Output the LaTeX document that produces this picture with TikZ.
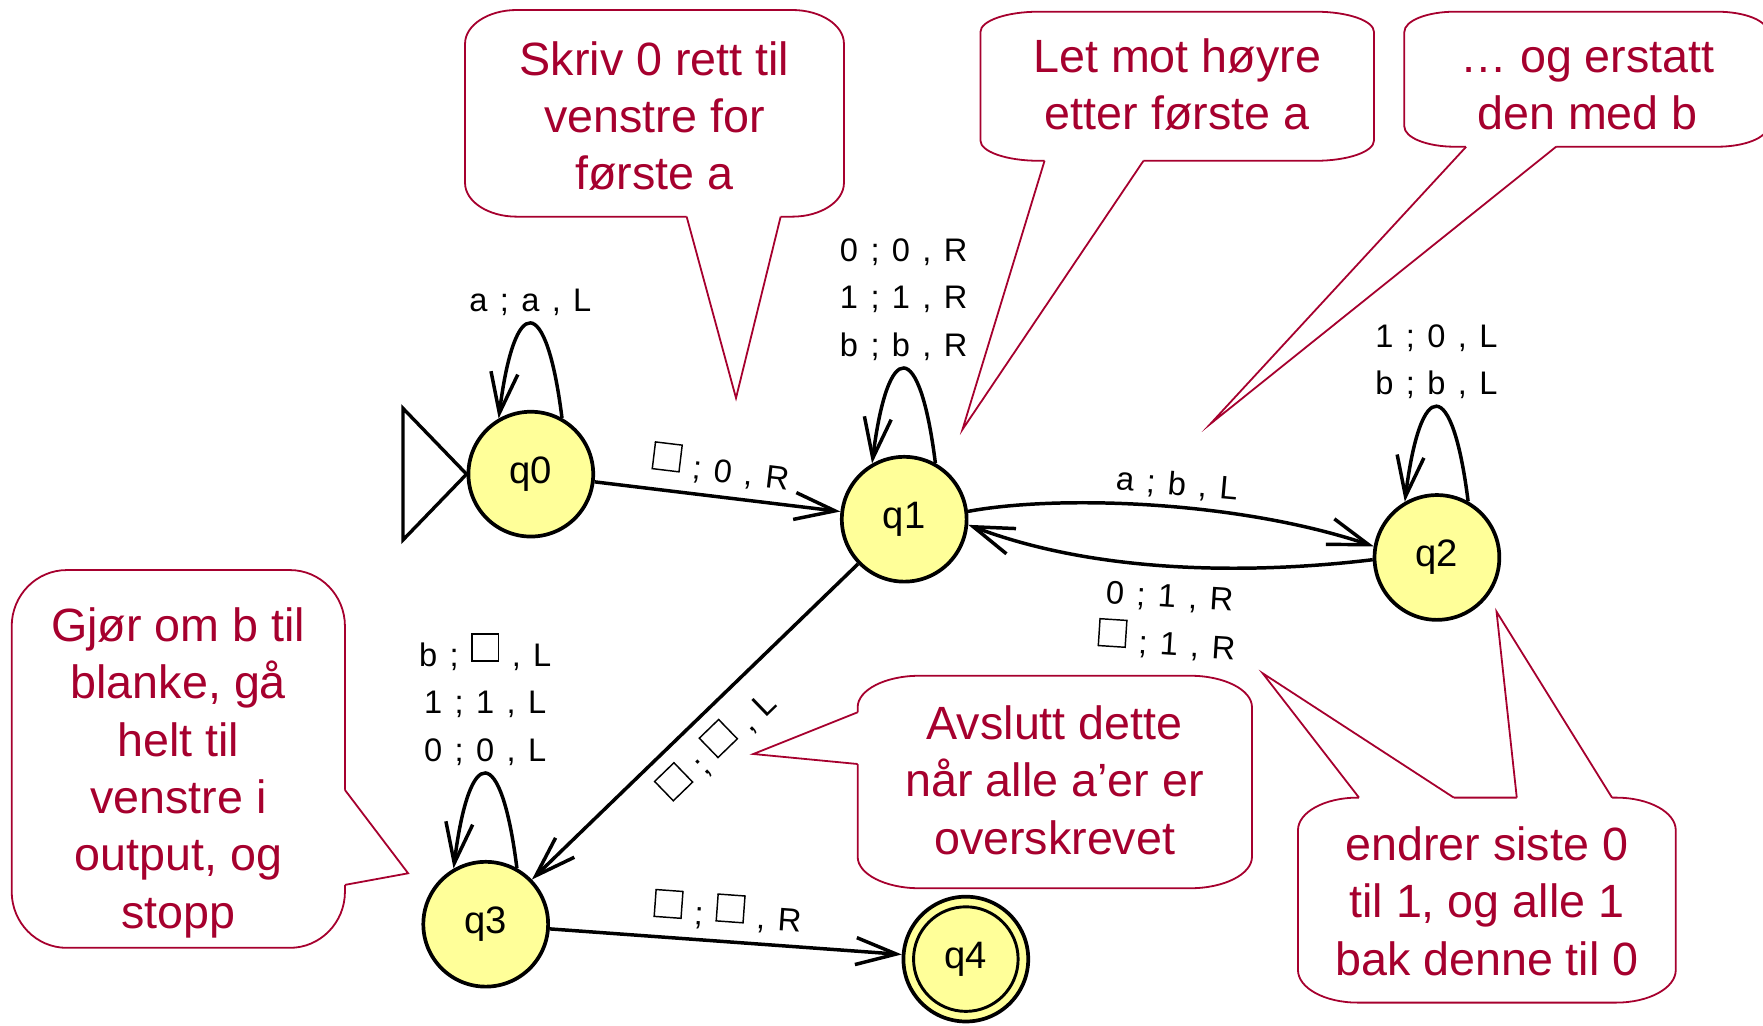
\documentclass[tikz,border=0pt]{standalone}
\usepackage{fontspec}
\setmainfont{Liberation Sans}
\usetikzlibrary{arrows.meta,calc}
\definecolor{cred}{RGB}{166,0,46}
\definecolor{syellow}{RGB}{255,255,153}
\newcommand\gp{\hspace{0.38em}}
\newcommand\blanksym{\raisebox{0.18em}{\setlength{\fboxsep}{0pt}\setlength{\fboxrule}{1.3pt}\fbox{\rule{0pt}{0.78em}\rule{0.78em}{0pt}}}}
\newcommand\trlab[3]{#1\gp;\gp #2\gp,\gp #3}
\newcommand\callbox[6]{%
  \path[cbox] (#1+#5,#2) -- (#3-#5,#2)
    arc[start angle=90,end angle=0,x radius=#5pt,y radius=#6pt]
    -- (#3,#4-#6)
    arc[start angle=0,end angle=-90,x radius=#5pt,y radius=#6pt]
    -- (#1+#5,#4)
    arc[start angle=270,end angle=180,x radius=#5pt,y radius=#6pt]
    -- (#1,#2+#6)
    arc[start angle=180,end angle=90,x radius=#5pt,y radius=#6pt]
    -- cycle;}
\newcommand\callptr[4]{%
  \fill[white] #1 -- #2 -- #3 -- ($#3+#4$) -- ($#1+#4$) -- cycle;
  \draw[cline] #1 -- #2 -- #3;}
\begin{document}
\begin{tikzpicture}[x=1pt,y=-1pt,
  qstate/.style={circle,draw,line width=3.3pt,fill=syellow,minimum size=111pt,inner sep=0pt,font=\fontsize{34}{40}\selectfont},
  tedge/.style={line width=3.1pt,-{Straight Barb[length=36pt,width=24pt]}},
  lbl/.style={font=\fontsize{29}{42.5}\selectfont,inner sep=0pt,align=center},
  cbox/.style={draw=cred,fill=white,line width=1.6pt},
  cline/.style={draw=cred,line width=1.6pt,line join=miter,miter limit=20},
  ctext/.style={text=cred,font=\fontsize{41.5}{51}\selectfont,align=center,inner sep=0pt}]
\useasboundingbox (0,0) rectangle (1568,912.5);

% callouts
\callbox{413.6}{8.9}{750.6}{192.7}{46}{30}
\callptr{(610.7,192.7)}{(654.6,354)}{(694.3,192.7)}{(0,-2.5)}
\node[ctext] (t1) at (582.1,107.65) {\strut Skriv 0 rett til\\\strut venstre for\\\strut første a};

\callbox{872}{10.4}{1222}{143}{52}{18}
\callptr{(929,143)}{(856,382)}{(1017,143)}{(0,-2.5)}
\node[ctext] (t2) at (1047,79.9) {\strut Let mot høyre\\\strut etter første a};

\callbox{1249}{10.4}{1572}{130.5}{45}{18}
\callptr{(1304,130.5)}{(1076.5,377)}{(1384,130.5)}{(0,-2.5)}
\node[ctext] (t3) at (1412,79.9) {\strut … og erstatt\\\strut den med b};

\callbox{10.4}{507}{306.8}{843}{49}{50}
\callptr{(306.8,702.6)}{(363,776.7)}{(306.8,787)}{(-2.5,0)}
\node[ctext] (t4) at (158.6,687.95) {\strut Gjør om b til\\\strut blanke, gå\\\strut helt til\\\strut venstre i\\\strut output, og\\\strut stopp};

\callbox{762.8}{601}{1113.5}{790}{55}{28}
\callptr{(762.8,633.5)}{(670,670.6)}{(762.8,679.5)}{(2.5,0)}
\node[ctext] (t5) at (938,698.55) {\strut Avslutt dette\\\strut når alle a’er er\\\strut overskrevet};

\callbox{1154.4}{709.4}{1490.4}{891.7}{53}{29}
\callptr{(1208.7,709.4)}{(1123,598.8)}{(1293,709.4)}{(0,2.5)}
\callptr{(1349,709.4)}{(1331,544)}{(1433.7,709.4)}{(0,2.5)}
\node[ctext] (t6) at (1322.4,806) {\strut endrer siste 0\\\strut til 1, og alle 1\\\strut bak denne til 0};

% states
\node[qstate] (q0) at (472.1,421.7) {q0};
\node[qstate] (q1) at (804.2,461.8) {q1};
\node[qstate] (q2) at (1278,495.8) {q2};
\node[qstate] (q3) at (432,822) {q3};
\node[qstate] (q4) at (859,853) {q4};
\draw[line width=2.6pt] (q4.center) circle[radius=46.5pt];

% initial marker
\draw[line width=3pt] (q0.west) -- ++(-56.5,-58.5) -- ++(0,117) -- cycle;

% transitions
\draw[tedge] (q0) -- node[lbl,sloped,above=8pt] {\trlab{\blanksym}{0}{R}} (q1);
\draw[tedge] (q1.7) .. controls (940,440) and (1100,445) .. (q2.170)
  node[lbl,pos=0.55,sloped,above=5.5pt] {\trlab{a}{b}{L}};
\draw[tedge] (q2.182) .. controls (1120,510) and (980,512) .. (q1.355)
  node[lbl,pos=0.515,sloped,below=15pt] {\trlab{0}{1}{R}\\\trlab{\blanksym}{1}{R}};
\draw[tedge] (q1) -- node[lbl,sloped,below=11pt] {\trlab{\blanksym}{\blanksym}{L}} (q3);
\draw[tedge] (q3) -- node[lbl,sloped,above=8pt] {\trlab{\blanksym}{\blanksym}{R}} (q4);

% loops
\draw[tedge] (q0.61) .. controls +(-14,-112) and +(14,-112) .. (q0.120)
  node[lbl,pos=0.5,above=5.5pt] {\trlab{a}{a}{L}};
\draw[tedge] (q1.61) .. controls +(-14,-112) and +(14,-112) .. (q1.120)
  node[lbl,pos=0.5,above=5.5pt] {\trlab{0}{0}{R}\\\trlab{1}{1}{R}\\\trlab{b}{b}{R}};
\draw[tedge] (q2.61) .. controls +(-14,-112) and +(14,-112) .. (q2.120)
  node[lbl,pos=0.5,above=5.5pt] {\trlab{1}{0}{L}\\\trlab{b}{b}{L}};
\draw[tedge] (q3.61) .. controls +(-14,-112) and +(14,-112) .. (q3.120)
  node[lbl,pos=0.5,above=5.5pt] {\trlab{b}{\blanksym}{L}\\\trlab{1}{1}{L}\\\trlab{0}{0}{L}};
\end{tikzpicture}
\end{document}
